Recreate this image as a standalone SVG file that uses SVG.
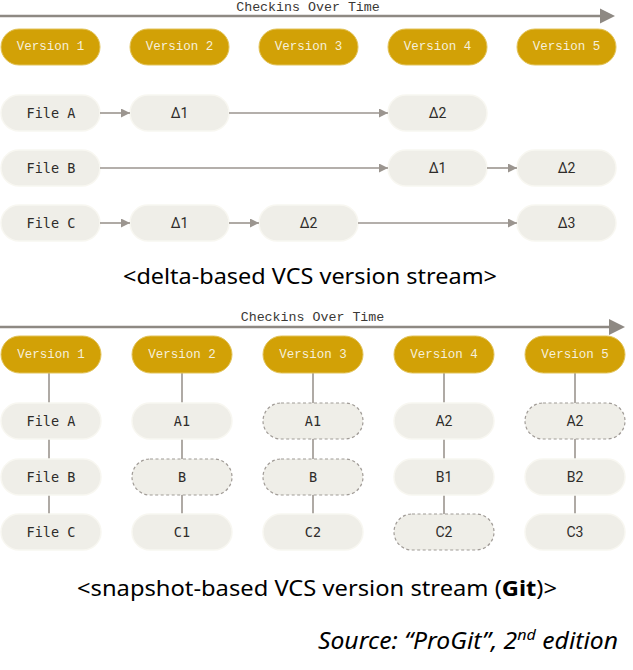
<svg xmlns="http://www.w3.org/2000/svg" width="633" height="670" viewBox="0 0 633 670">
<style>
.ver{fill:#d2a106;stroke:#e2c35a;stroke-width:1}
.vt{font-family:"Liberation Mono","DejaVu Sans Mono",monospace;font-size:12.5px;fill:#f6f0dc;text-anchor:middle;dominant-baseline:central}
.cell{fill:#efeee8;stroke:#f8f7f1;stroke-width:1.5}
.dash{fill:#efeee8;stroke:#a09b96;stroke-width:1.2;stroke-dasharray:3 2.5}
.ft{font-family:"DejaVu Sans Mono","Liberation Mono",monospace;font-size:13.5px;fill:#2e2c2a;text-anchor:middle;dominant-baseline:central}
.dt{font-family:Roboto,"Noto Sans",sans-serif;font-size:14px;fill:#2e2c2a;text-anchor:middle;dominant-baseline:central}
.tl{font-family:"Liberation Mono","DejaVu Sans Mono",monospace;font-size:13.3px;fill:#3a3835;text-anchor:middle}
.axis{stroke:#8e8983;stroke-width:2.5;fill:none}
.con{stroke:#9b958f;stroke-width:1.6;fill:none}
.vl{stroke:#9b958f;stroke-width:1.6;fill:none}
.cap{font-family:"Noto Sans","Liberation Sans",sans-serif;font-size:21px;fill:#000;text-anchor:middle}
.src{font-family:"Noto Sans","Liberation Sans",sans-serif;font-size:23px;font-style:italic;fill:#000;text-anchor:end}
</style>
<defs>
<marker id="ah" viewBox="0 0 10 10" refX="10" refY="5" markerWidth="10" markerHeight="9" markerUnits="userSpaceOnUse" orient="auto">
<path d="M0,0 L10,5 L0,10 Z" fill="#9b958f"/>
</marker>
</defs>

<!-- ===== Delta-based section ===== -->
<g id="timeline-top">
<line class="axis" x1="0" y1="16" x2="602" y2="16"/>
<polygon points="600,8.5 615,16 600,23.5" fill="#8e8983"/>
<text class="tl" x="308" y="11">Checkins Over Time</text>
</g>

<g id="d-v1"><rect class="ver" x="1" y="29" width="99" height="36" rx="18"/><text class="vt" x="50.5" y="47">Version 1</text></g>
<g id="d-v2"><rect class="ver" x="130" y="29" width="99" height="36" rx="18"/><text class="vt" x="179.5" y="47">Version 2</text></g>
<g id="d-v3"><rect class="ver" x="259" y="29" width="99" height="36" rx="18"/><text class="vt" x="308.5" y="47">Version 3</text></g>
<g id="d-v4"><rect class="ver" x="388" y="29" width="99" height="36" rx="18"/><text class="vt" x="437.5" y="47">Version 4</text></g>
<g id="d-v5"><rect class="ver" x="517" y="29" width="99" height="36" rx="18"/><text class="vt" x="566.5" y="47">Version 5</text></g>

<g id="d-fileA"><rect class="cell" x="1" y="95" width="99" height="36" rx="18"/><text class="ft" x="51" y="113">File A</text></g>
<g id="d-A-d1"><rect class="cell" x="130" y="95" width="99" height="36" rx="18"/><text class="dt" x="179.5" y="113">Δ1</text></g>
<g id="d-A-d2"><rect class="cell" x="388" y="95" width="99" height="36" rx="18"/><text class="dt" x="437.5" y="113">Δ2</text></g>

<g id="d-fileB"><rect class="cell" x="1" y="150" width="99" height="36" rx="18"/><text class="ft" x="51" y="168">File B</text></g>
<g id="d-B-d1"><rect class="cell" x="388" y="150" width="99" height="36" rx="18"/><text class="dt" x="437.5" y="168">Δ1</text></g>
<g id="d-B-d2"><rect class="cell" x="517" y="150" width="99" height="36" rx="18"/><text class="dt" x="566.5" y="168">Δ2</text></g>

<g id="d-fileC"><rect class="cell" x="1" y="205" width="99" height="36" rx="18"/><text class="ft" x="51" y="223">File C</text></g>
<g id="d-C-d1"><rect class="cell" x="130" y="205" width="99" height="36" rx="18"/><text class="dt" x="179.5" y="223">Δ1</text></g>
<g id="d-C-d2"><rect class="cell" x="259" y="205" width="99" height="36" rx="18"/><text class="dt" x="308.5" y="223">Δ2</text></g>
<g id="d-C-d3"><rect class="cell" x="517" y="205" width="99" height="36" rx="18"/><text class="dt" x="566.5" y="223">Δ3</text></g>

<g id="d-connectors">
<line class="con" x1="100" y1="113" x2="130" y2="113" marker-end="url(#ah)"/>
<line class="con" x1="229" y1="113" x2="388" y2="113" marker-end="url(#ah)"/>
<line class="con" x1="100" y1="168" x2="388" y2="168" marker-end="url(#ah)"/>
<line class="con" x1="487" y1="168" x2="517" y2="168" marker-end="url(#ah)"/>
<line class="con" x1="100" y1="223" x2="130" y2="223" marker-end="url(#ah)"/>
<line class="con" x1="229" y1="223" x2="259" y2="223" marker-end="url(#ah)"/>
<line class="con" x1="358" y1="223" x2="517" y2="223" marker-end="url(#ah)"/>
</g>

<text class="cap" x="310" y="284" textLength="374" lengthAdjust="spacingAndGlyphs">&lt;delta-based VCS version stream&gt;</text>

<!-- ===== Snapshot-based section ===== -->
<g id="timeline-bottom">
<line class="axis" x1="0" y1="327" x2="611" y2="327"/>
<polygon points="609,319 625,327 609,335" fill="#8e8983"/>
<text class="tl" x="312.5" y="321">Checkins Over Time</text>
</g>

<g id="s-connectors">
<line class="vl" x1="49" y1="372" x2="49" y2="514"/>
<line class="vl" x1="182" y1="372" x2="182" y2="514"/>
<line class="vl" x1="313" y1="372" x2="313" y2="514"/>
<line class="vl" x1="444" y1="372" x2="444" y2="514"/>
<line class="vl" x1="575" y1="372" x2="575" y2="514"/>
</g>

<g id="s-v1"><rect class="ver" x="1" y="336" width="100" height="37" rx="18.5"/><text class="vt" x="51" y="354.5">Version 1</text></g>
<g id="s-v2"><rect class="ver" x="132" y="336" width="100" height="37" rx="18.5"/><text class="vt" x="182" y="354.5">Version 2</text></g>
<g id="s-v3"><rect class="ver" x="263" y="336" width="100" height="37" rx="18.5"/><text class="vt" x="313" y="354.5">Version 3</text></g>
<g id="s-v4"><rect class="ver" x="394" y="336" width="100" height="37" rx="18.5"/><text class="vt" x="444" y="354.5">Version 4</text></g>
<g id="s-v5"><rect class="ver" x="525" y="336" width="100" height="37" rx="18.5"/><text class="vt" x="575" y="354.5">Version 5</text></g>

<g id="s-fileA"><rect class="cell" x="1" y="403" width="100" height="36" rx="18"/><text class="ft" x="51" y="421">File A</text></g>
<g id="s-fileB"><rect class="cell" x="1" y="459" width="100" height="36" rx="18"/><text class="ft" x="51" y="477">File B</text></g>
<g id="s-fileC"><rect class="cell" x="1" y="514" width="100" height="36" rx="18"/><text class="ft" x="51" y="532">File C</text></g>

<g id="s-v2-A1"><rect class="cell" x="132" y="403" width="100" height="36" rx="18"/><text class="ft" x="182" y="421">A1</text></g>
<g id="s-v2-B"><rect class="dash" x="132" y="459" width="100" height="36" rx="18"/><text class="ft" x="182" y="477">B</text></g>
<g id="s-v2-C1"><rect class="cell" x="132" y="514" width="100" height="36" rx="18"/><text class="ft" x="182" y="532">C1</text></g>

<g id="s-v3-A1"><rect class="dash" x="263" y="403" width="100" height="36" rx="18"/><text class="ft" x="313" y="421">A1</text></g>
<g id="s-v3-B"><rect class="dash" x="263" y="459" width="100" height="36" rx="18"/><text class="ft" x="313" y="477">B</text></g>
<g id="s-v3-C2"><rect class="cell" x="263" y="514" width="100" height="36" rx="18"/><text class="ft" x="313" y="532">C2</text></g>

<g id="s-v4-A2"><rect class="cell" x="394" y="403" width="100" height="36" rx="18"/><text class="dt" x="444" y="421">A2</text></g>
<g id="s-v4-B1"><rect class="cell" x="394" y="459" width="100" height="36" rx="18"/><text class="dt" x="444" y="477">B1</text></g>
<g id="s-v4-C2"><rect class="dash" x="394" y="514" width="100" height="36" rx="18"/><text class="dt" x="444" y="532">C2</text></g>

<g id="s-v5-A2"><rect class="dash" x="525" y="403" width="100" height="36" rx="18"/><text class="dt" x="575" y="421">A2</text></g>
<g id="s-v5-B2"><rect class="cell" x="525" y="459" width="100" height="36" rx="18"/><text class="dt" x="575" y="477">B2</text></g>
<g id="s-v5-C3"><rect class="cell" x="525" y="514" width="100" height="36" rx="18"/><text class="dt" x="575" y="532">C3</text></g>

<text class="cap" x="317" y="596" textLength="480" lengthAdjust="spacingAndGlyphs">&lt;snapshot-based VCS version stream (<tspan font-weight="bold">Git</tspan>)&gt;</text>

<text class="src" x="618" y="649" textLength="300" lengthAdjust="spacingAndGlyphs">Source: “ProGit”, 2<tspan font-size="15" dy="-9">nd</tspan><tspan dy="9"> edition</tspan></text>
</svg>
